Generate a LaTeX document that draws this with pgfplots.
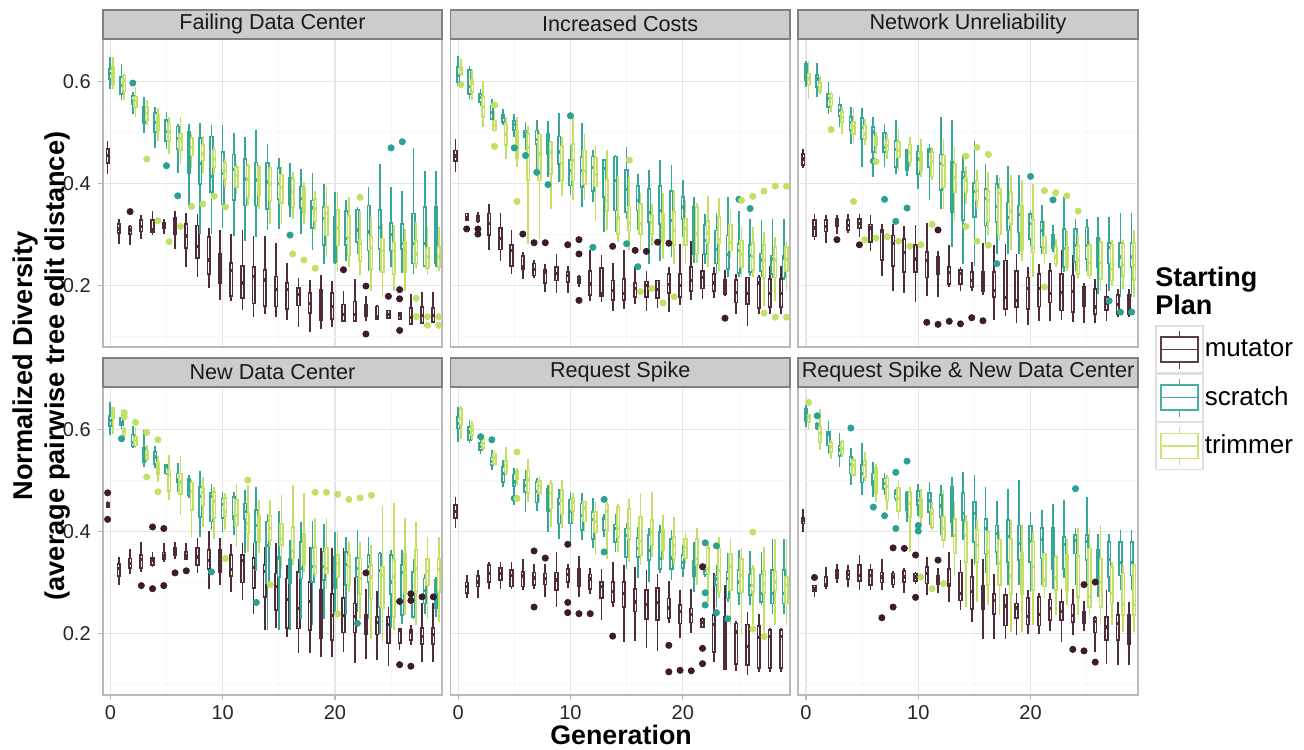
\documentclass[border=0pt]{standalone}
\usepackage{fontspec}
\setmainfont{Liberation Sans}
\usepackage{pgfplots}
\usepackage{pgfplotstable}
\pgfplotsset{compat=1.18}
\usepgfplotslibrary{statistics}

\definecolor{mutcol}{RGB}{61,27,40}
\definecolor{scrcol}{RGB}{42,161,146}
\definecolor{trimcol}{RGB}{194,224,102}
\definecolor{stripfill}{gray}{0.80}
\definecolor{stripline}{gray}{0.50}
\definecolor{gridmaj}{gray}{0.90}
\definecolor{gridmin}{gray}{0.97}

% one table per facet and starting plan: generation, lower whisker, Q1, median, Q3, upper whisker
\pgfplotstableread{
g lw qa md qb uw
0 0.419 0.440 0.455 0.468 0.484
1 0.282 0.303 0.311 0.321 0.331
2 0.279 0.301 0.309 0.316 0.318
3 0.292 0.306 0.316 0.328 0.339
4 0.300 0.305 0.309 0.328 0.346
5 0.301 0.313 0.318 0.323 0.331
6 0.271 0.300 0.314 0.333 0.347
7 0.237 0.273 0.297 0.321 0.342
8 0.216 0.254 0.277 0.318 0.341
9 0.195 0.223 0.250 0.295 0.312
10 0.171 0.205 0.239 0.263 0.308
11 0.169 0.180 0.229 0.244 0.301
12 0.152 0.175 0.205 0.239 0.309
13 0.139 0.165 0.218 0.236 0.297
14 0.145 0.160 0.211 0.231 0.298
15 0.138 0.159 0.192 0.218 0.283
16 0.133 0.154 0.192 0.205 0.244
17 0.118 0.161 0.182 0.195 0.214
18 0.109 0.146 0.165 0.186 0.211
19 0.115 0.133 0.175 0.192 0.221
20 0.118 0.135 0.159 0.185 0.208
21 0.128 0.131 0.144 0.163 0.189
22 0.128 0.131 0.143 0.169 0.213
23 0.131 0.140 0.151 0.162 0.179
24 0.133 0.135 0.139 0.159 0.161
25 0.135 0.137 0.144 0.151 0.152
26 0.133 0.135 0.141 0.146 0.148
27 0.124 0.125 0.138 0.156 0.184
28 0.125 0.127 0.141 0.158 0.187
29 0.126 0.128 0.141 0.156 0.187
}\pAm
\pgfplotstableread{
g lw qa md qb uw
0 0.586 0.605 0.615 0.625 0.648
1 0.564 0.576 0.592 0.609 0.635
2 0.537 0.556 0.562 0.571 0.579
3 0.499 0.518 0.540 0.550 0.569
4 0.469 0.501 0.520 0.538 0.550
5 0.467 0.484 0.502 0.524 0.540
6 0.420 0.468 0.488 0.512 0.516
7 0.354 0.420 0.470 0.501 0.516
8 0.301 0.399 0.440 0.489 0.518
9 0.301 0.383 0.414 0.492 0.514
10 0.313 0.359 0.419 0.462 0.514
11 0.297 0.368 0.427 0.457 0.499
12 0.288 0.357 0.409 0.448 0.492
13 0.296 0.357 0.407 0.441 0.505
14 0.308 0.350 0.403 0.440 0.477
15 0.310 0.370 0.400 0.430 0.450
16 0.334 0.357 0.394 0.412 0.441
17 0.301 0.352 0.371 0.394 0.429
18 0.269 0.313 0.352 0.367 0.421
19 0.243 0.279 0.331 0.354 0.399
20 0.243 0.246 0.321 0.334 0.383
21 0.249 0.279 0.293 0.346 0.367
22 0.262 0.285 0.309 0.349 0.354
23 0.229 0.269 0.305 0.357 0.393
24 0.229 0.272 0.314 0.348 0.439
25 0.236 0.269 0.300 0.323 0.394
26 0.224 0.272 0.282 0.321 0.385
27 0.223 0.243 0.283 0.341 0.470
28 0.236 0.239 0.283 0.354 0.424
29 0.236 0.243 0.283 0.354 0.424
}\pAs
\pgfplotstableread{
g lw qa md qb uw
0 0.585 0.595 0.605 0.629 0.648
1 0.563 0.582 0.602 0.612 0.614
2 0.530 0.550 0.563 0.569 0.589
3 0.514 0.525 0.537 0.550 0.563
4 0.484 0.503 0.520 0.535 0.548
5 0.458 0.484 0.501 0.518 0.531
6 0.439 0.466 0.488 0.497 0.531
7 0.430 0.455 0.471 0.489 0.497
8 0.420 0.445 0.458 0.475 0.494
9 0.419 0.433 0.448 0.465 0.471
10 0.393 0.409 0.426 0.440 0.448
11 0.380 0.393 0.416 0.433 0.439
12 0.357 0.373 0.409 0.435 0.439
13 0.350 0.377 0.409 0.432 0.437
14 0.321 0.367 0.399 0.430 0.432
15 0.321 0.362 0.393 0.418 0.432
16 0.330 0.354 0.383 0.409 0.422
17 0.321 0.342 0.360 0.392 0.404
18 0.308 0.326 0.350 0.370 0.386
19 0.256 0.298 0.341 0.354 0.396
20 0.229 0.279 0.313 0.348 0.383
21 0.236 0.259 0.295 0.337 0.373
22 0.220 0.248 0.282 0.290 0.347
23 0.190 0.233 0.275 0.295 0.334
24 0.177 0.226 0.269 0.292 0.321
25 0.190 0.223 0.269 0.283 0.318
26 0.190 0.226 0.256 0.285 0.311
27 0.235 0.243 0.262 0.287 0.324
28 0.220 0.235 0.256 0.274 0.314
29 0.229 0.236 0.256 0.275 0.314
}\pAt
\pgfplotstableread{
g lw qa md qb uw
0 0.422 0.444 0.454 0.465 0.488
1 0.326 0.329 0.334 0.341 0.343
2 0.322 0.326 0.331 0.337 0.344
3 0.270 0.299 0.322 0.341 0.360
4 0.248 0.271 0.293 0.313 0.342
5 0.223 0.239 0.269 0.280 0.308
6 0.213 0.233 0.237 0.258 0.265
7 0.215 0.220 0.231 0.243 0.250
8 0.187 0.205 0.226 0.231 0.242
9 0.185 0.210 0.224 0.237 0.261
10 0.185 0.207 0.220 0.226 0.239
11 0.197 0.205 0.213 0.218 0.220
12 0.170 0.182 0.203 0.228 0.269
13 0.167 0.180 0.185 0.234 0.259
14 0.151 0.172 0.190 0.210 0.244
15 0.154 0.172 0.184 0.213 0.269
16 0.164 0.177 0.194 0.205 0.239
17 0.151 0.178 0.200 0.208 0.229
18 0.156 0.176 0.192 0.210 0.211
19 0.148 0.185 0.202 0.222 0.236
20 0.161 0.178 0.200 0.222 0.282
21 0.171 0.190 0.210 0.236 0.287
22 0.174 0.194 0.216 0.228 0.261
23 0.176 0.190 0.205 0.222 0.237
24 0.180 0.184 0.187 0.211 0.231
25 0.144 0.167 0.187 0.211 0.222
26 0.120 0.164 0.184 0.216 0.216
27 0.144 0.156 0.205 0.216 0.220
28 0.144 0.158 0.184 0.213 0.239
29 0.144 0.158 0.184 0.213 0.239
}\pBm
\pgfplotstableread{
g lw qa md qb uw
0 0.592 0.599 0.612 0.628 0.651
1 0.566 0.576 0.590 0.622 0.631
2 0.553 0.560 0.569 0.576 0.586
3 0.525 0.527 0.540 0.553 0.566
4 0.514 0.520 0.530 0.535 0.546
5 0.492 0.505 0.516 0.522 0.537
6 0.465 0.491 0.497 0.504 0.520
7 0.426 0.478 0.486 0.504 0.524
8 0.412 0.458 0.488 0.497 0.522
9 0.403 0.439 0.462 0.492 0.538
10 0.377 0.396 0.426 0.446 0.475
11 0.354 0.393 0.426 0.452 0.518
12 0.363 0.385 0.432 0.453 0.466
13 0.305 0.373 0.429 0.446 0.448
14 0.305 0.347 0.406 0.453 0.455
15 0.331 0.344 0.388 0.427 0.471
16 0.308 0.347 0.367 0.395 0.418
17 0.243 0.324 0.344 0.390 0.426
18 0.249 0.321 0.347 0.395 0.446
19 0.256 0.282 0.327 0.386 0.437
20 0.295 0.331 0.354 0.373 0.407
21 0.245 0.262 0.314 0.354 0.373
22 0.242 0.262 0.288 0.319 0.341
23 0.223 0.243 0.270 0.308 0.342
24 0.216 0.233 0.261 0.298 0.373
25 0.216 0.224 0.269 0.282 0.347
26 0.219 0.226 0.259 0.280 0.331
27 0.216 0.229 0.250 0.263 0.329
28 0.215 0.223 0.252 0.259 0.331
29 0.210 0.216 0.254 0.259 0.331
}\pBs
\pgfplotstableread{
g lw qa md qb uw
0 0.610 0.615 0.624 0.629 0.645
1 0.563 0.579 0.597 0.603 0.622
2 0.511 0.530 0.551 0.569 0.602
3 0.501 0.504 0.514 0.522 0.542
4 0.448 0.475 0.497 0.516 0.530
5 0.432 0.450 0.484 0.504 0.531
6 0.282 0.407 0.470 0.497 0.512
7 0.291 0.406 0.458 0.496 0.504
8 0.350 0.419 0.462 0.481 0.484
9 0.375 0.406 0.439 0.473 0.491
10 0.367 0.406 0.445 0.477 0.530
11 0.367 0.399 0.426 0.465 0.497
12 0.327 0.394 0.418 0.450 0.475
13 0.308 0.346 0.367 0.407 0.465
14 0.285 0.301 0.331 0.334 0.414
15 0.269 0.308 0.324 0.355 0.412
16 0.269 0.301 0.321 0.360 0.381
17 0.277 0.301 0.324 0.337 0.360
18 0.252 0.288 0.311 0.341 0.381
19 0.243 0.279 0.308 0.344 0.388
20 0.243 0.279 0.311 0.331 0.367
21 0.245 0.262 0.301 0.354 0.362
22 0.236 0.283 0.303 0.327 0.375
23 0.229 0.283 0.291 0.334 0.371
24 0.255 0.269 0.285 0.320 0.350
25 0.216 0.236 0.262 0.287 0.314
26 0.216 0.231 0.256 0.283 0.314
27 0.159 0.216 0.249 0.280 0.305
28 0.170 0.216 0.250 0.275 0.295
29 0.190 0.229 0.252 0.275 0.288
}\pBt
\pgfplotstableread{
g lw qa md qb uw
0 0.431 0.437 0.448 0.458 0.468
1 0.290 0.296 0.313 0.329 0.341
2 0.283 0.306 0.316 0.328 0.339
3 0.301 0.316 0.324 0.331 0.339
4 0.303 0.309 0.318 0.328 0.341
5 0.295 0.313 0.321 0.331 0.341
6 0.267 0.286 0.313 0.320 0.339
7 0.218 0.250 0.307 0.309 0.321
8 0.189 0.239 0.283 0.298 0.320
9 0.185 0.226 0.265 0.291 0.316
10 0.167 0.226 0.252 0.280 0.318
11 0.180 0.216 0.249 0.266 0.322
12 0.177 0.223 0.239 0.257 0.267
13 0.198 0.203 0.226 0.237 0.280
14 0.190 0.203 0.223 0.231 0.237
15 0.190 0.197 0.210 0.226 0.246
16 0.182 0.190 0.210 0.226 0.283
17 0.133 0.177 0.190 0.226 0.279
18 0.141 0.154 0.177 0.249 0.282
19 0.126 0.158 0.171 0.229 0.262
20 0.122 0.154 0.194 0.216 0.236
21 0.131 0.159 0.194 0.223 0.243
22 0.130 0.167 0.185 0.229 0.244
23 0.133 0.151 0.187 0.223 0.269
24 0.128 0.148 0.189 0.220 0.259
25 0.126 0.159 0.190 0.198 0.206
26 0.126 0.144 0.158 0.193 0.213
27 0.131 0.152 0.165 0.177 0.203
28 0.138 0.144 0.163 0.182 0.193
29 0.138 0.144 0.163 0.182 0.193
}\pCm
\pgfplotstableread{
g lw qa md qb uw
0 0.589 0.603 0.618 0.635 0.641
1 0.569 0.589 0.605 0.613 0.636
2 0.537 0.550 0.566 0.576 0.599
3 0.511 0.532 0.543 0.554 0.569
4 0.478 0.505 0.520 0.530 0.550
5 0.432 0.488 0.510 0.529 0.548
6 0.412 0.462 0.501 0.511 0.530
7 0.432 0.462 0.470 0.499 0.516
8 0.419 0.433 0.466 0.484 0.525
9 0.415 0.427 0.448 0.466 0.468
10 0.390 0.419 0.448 0.463 0.475
11 0.367 0.432 0.463 0.468 0.478
12 0.350 0.388 0.439 0.457 0.531
13 0.275 0.344 0.431 0.442 0.524
14 0.243 0.329 0.412 0.422 0.455
15 0.239 0.334 0.384 0.401 0.484
16 0.282 0.318 0.370 0.390 0.439
17 0.262 0.324 0.355 0.399 0.416
18 0.262 0.308 0.334 0.363 0.435
19 0.262 0.304 0.339 0.357 0.416
20 0.278 0.291 0.321 0.340 0.347
21 0.262 0.275 0.308 0.324 0.357
22 0.265 0.274 0.296 0.300 0.318
23 0.226 0.236 0.272 0.311 0.373
24 0.229 0.246 0.279 0.311 0.331
25 0.229 0.252 0.279 0.314 0.331
26 0.184 0.236 0.272 0.293 0.334
27 0.190 0.243 0.275 0.283 0.334
28 0.177 0.236 0.256 0.283 0.342
29 0.177 0.236 0.256 0.283 0.342
}\pCs
\pgfplotstableread{
g lw qa md qb uw
0 0.566 0.594 0.605 0.616 0.640
1 0.575 0.581 0.589 0.597 0.610
2 0.540 0.553 0.566 0.576 0.579
3 0.497 0.520 0.530 0.540 0.550
4 0.479 0.497 0.511 0.520 0.548
5 0.475 0.488 0.497 0.514 0.527
6 0.458 0.475 0.483 0.492 0.501
7 0.448 0.465 0.475 0.486 0.497
8 0.425 0.452 0.465 0.481 0.507
9 0.432 0.443 0.461 0.475 0.491
10 0.412 0.427 0.445 0.462 0.488
11 0.406 0.414 0.444 0.462 0.471
12 0.350 0.393 0.435 0.455 0.488
13 0.327 0.383 0.411 0.439 0.471
14 0.360 0.383 0.406 0.412 0.435
15 0.350 0.367 0.386 0.406 0.427
16 0.300 0.327 0.367 0.386 0.422
17 0.290 0.300 0.380 0.390 0.412
18 0.269 0.321 0.346 0.383 0.416
19 0.249 0.269 0.341 0.357 0.406
20 0.216 0.265 0.275 0.329 0.399
21 0.242 0.263 0.275 0.296 0.329
22 0.236 0.243 0.256 0.275 0.291
23 0.229 0.236 0.256 0.276 0.308
24 0.215 0.223 0.250 0.278 0.301
25 0.213 0.220 0.246 0.280 0.288
26 0.190 0.213 0.246 0.285 0.293
27 0.200 0.210 0.231 0.280 0.289
28 0.194 0.219 0.239 0.282 0.289
29 0.177 0.211 0.239 0.283 0.308
}\pCt
\pgfplotstableread{
g lw qa md qb uw
0 0.446 0.448 0.453 0.457 0.459
1 0.295 0.313 0.328 0.337 0.350
2 0.316 0.328 0.337 0.347 0.365
3 0.320 0.329 0.346 0.354 0.380
4 0.330 0.335 0.344 0.348 0.360
5 0.341 0.346 0.352 0.359 0.377
6 0.347 0.354 0.363 0.369 0.380
7 0.344 0.346 0.352 0.360 0.377
8 0.318 0.335 0.350 0.368 0.388
9 0.287 0.326 0.344 0.364 0.401
10 0.295 0.321 0.346 0.365 0.388
11 0.282 0.313 0.326 0.354 0.375
12 0.265 0.300 0.344 0.354 0.377
13 0.239 0.290 0.329 0.348 0.377
14 0.207 0.272 0.321 0.335 0.370
15 0.210 0.246 0.292 0.318 0.377
16 0.194 0.211 0.267 0.308 0.334
17 0.161 0.210 0.249 0.321 0.347
18 0.161 0.207 0.263 0.301 0.370
19 0.154 0.192 0.265 0.285 0.367
20 0.154 0.187 0.236 0.277 0.367
21 0.164 0.202 0.236 0.270 0.367
22 0.143 0.202 0.233 0.259 0.311
23 0.150 0.198 0.218 0.236 0.287
24 0.148 0.198 0.222 0.233 0.283
25 0.137 0.182 0.218 0.233 0.252
26 0.167 0.182 0.207 0.210 0.211
27 0.178 0.187 0.203 0.208 0.216
28 0.144 0.180 0.194 0.211 0.259
29 0.144 0.180 0.198 0.211 0.259
}\pDm
\pgfplotstableread{
g lw qa md qb uw
0 0.590 0.607 0.618 0.627 0.654
1 0.602 0.609 0.614 0.622 0.638
2 0.563 0.568 0.575 0.590 0.607
3 0.527 0.537 0.553 0.564 0.599
4 0.524 0.533 0.546 0.556 0.568
5 0.511 0.514 0.527 0.530 0.533
6 0.478 0.496 0.501 0.514 0.535
7 0.466 0.471 0.495 0.503 0.511
8 0.390 0.429 0.468 0.488 0.518
9 0.403 0.420 0.468 0.475 0.494
10 0.399 0.427 0.453 0.465 0.478
11 0.393 0.425 0.429 0.468 0.478
12 0.357 0.425 0.439 0.455 0.481
13 0.322 0.380 0.412 0.442 0.488
14 0.207 0.298 0.373 0.420 0.435
15 0.207 0.311 0.348 0.350 0.440
16 0.207 0.298 0.327 0.347 0.383
17 0.229 0.308 0.327 0.380 0.419
18 0.216 0.301 0.331 0.368 0.420
19 0.229 0.305 0.331 0.361 0.414
20 0.236 0.290 0.331 0.350 0.399
21 0.236 0.295 0.335 0.360 0.390
22 0.242 0.311 0.327 0.348 0.404
23 0.229 0.301 0.331 0.354 0.390
24 0.200 0.252 0.324 0.357 0.360
25 0.211 0.277 0.301 0.354 0.363
26 0.218 0.236 0.320 0.334 0.363
27 0.229 0.233 0.278 0.321 0.347
28 0.239 0.259 0.285 0.308 0.316
29 0.233 0.249 0.278 0.305 0.311
}\pDs
\pgfplotstableread{
g lw qa md qb uw
0 0.592 0.622 0.628 0.643 0.645
1 0.586 0.589 0.597 0.602 0.605
2 0.563 0.569 0.579 0.586 0.605
3 0.537 0.542 0.550 0.558 0.569
4 0.497 0.512 0.527 0.535 0.548
5 0.461 0.479 0.512 0.520 0.550
6 0.432 0.473 0.497 0.514 0.548
7 0.390 0.442 0.478 0.496 0.501
8 0.409 0.452 0.477 0.486 0.507
9 0.386 0.426 0.460 0.478 0.488
10 0.403 0.431 0.440 0.466 0.475
11 0.370 0.412 0.432 0.462 0.494
12 0.360 0.396 0.416 0.435 0.492
13 0.357 0.380 0.406 0.431 0.461
14 0.370 0.383 0.406 0.431 0.461
15 0.327 0.373 0.386 0.416 0.471
16 0.334 0.347 0.363 0.409 0.491
17 0.320 0.337 0.380 0.396 0.475
18 0.311 0.318 0.331 0.370 0.426
19 0.288 0.318 0.327 0.368 0.426
20 0.229 0.311 0.337 0.354 0.401
21 0.282 0.295 0.331 0.354 0.380
22 0.229 0.277 0.308 0.347 0.380
23 0.190 0.269 0.311 0.335 0.373
24 0.184 0.249 0.314 0.331 0.450
25 0.207 0.233 0.311 0.344 0.456
26 0.236 0.279 0.311 0.357 0.426
27 0.216 0.282 0.327 0.364 0.419
28 0.229 0.295 0.324 0.346 0.390
29 0.223 0.282 0.326 0.346 0.390
}\pDt
\pgfplotstableread{
g lw qa md qb uw
0 0.407 0.427 0.439 0.452 0.468
1 0.270 0.280 0.292 0.300 0.314
2 0.269 0.292 0.301 0.313 0.324
3 0.287 0.301 0.318 0.334 0.341
4 0.287 0.305 0.318 0.329 0.341
5 0.287 0.292 0.314 0.324 0.341
6 0.285 0.292 0.313 0.321 0.347
7 0.288 0.295 0.309 0.320 0.337
8 0.272 0.296 0.308 0.318 0.337
9 0.252 0.285 0.305 0.320 0.360
10 0.290 0.301 0.316 0.326 0.337
11 0.272 0.292 0.313 0.327 0.352
12 0.277 0.287 0.307 0.316 0.329
13 0.226 0.270 0.292 0.301 0.326
14 0.252 0.262 0.282 0.301 0.341
15 0.184 0.252 0.278 0.301 0.335
16 0.185 0.243 0.262 0.287 0.331
17 0.171 0.229 0.257 0.285 0.324
18 0.165 0.226 0.261 0.290 0.316
19 0.220 0.231 0.250 0.269 0.303
20 0.192 0.220 0.244 0.256 0.285
21 0.202 0.222 0.237 0.249 0.287
22 0.210 0.213 0.222 0.229 0.233
23 0.144 0.164 0.218 0.236 0.318
24 0.128 0.131 0.222 0.233 0.295
25 0.126 0.141 0.203 0.220 0.224
26 0.118 0.138 0.174 0.218 0.242
27 0.124 0.133 0.192 0.215 0.239
28 0.125 0.133 0.195 0.207 0.210
29 0.125 0.133 0.195 0.207 0.210
}\pEm
\pgfplotstableread{
g lw qa md qb uw
0 0.576 0.602 0.612 0.624 0.645
1 0.573 0.579 0.595 0.605 0.618
2 0.553 0.560 0.566 0.573 0.582
3 0.520 0.530 0.538 0.545 0.560
4 0.488 0.497 0.514 0.527 0.540
5 0.452 0.490 0.497 0.512 0.524
6 0.439 0.477 0.491 0.501 0.520
7 0.440 0.457 0.478 0.497 0.505
8 0.399 0.440 0.471 0.483 0.491
9 0.386 0.416 0.455 0.465 0.484
10 0.375 0.416 0.439 0.463 0.478
11 0.383 0.403 0.432 0.455 0.475
12 0.367 0.386 0.424 0.439 0.465
13 0.390 0.403 0.426 0.427 0.435
14 0.360 0.380 0.406 0.414 0.435
15 0.327 0.350 0.393 0.406 0.416
16 0.308 0.350 0.367 0.388 0.409
17 0.301 0.344 0.363 0.393 0.406
18 0.318 0.327 0.347 0.399 0.412
19 0.305 0.327 0.348 0.386 0.403
20 0.310 0.329 0.339 0.354 0.373
21 0.282 0.313 0.324 0.342 0.380
22 0.310 0.316 0.324 0.334 0.334
23 0.252 0.295 0.307 0.314 0.334
24 0.262 0.269 0.308 0.321 0.357
25 0.256 0.279 0.301 0.324 0.363
26 0.256 0.275 0.295 0.316 0.361
27 0.256 0.262 0.278 0.316 0.360
28 0.239 0.259 0.278 0.324 0.386
29 0.239 0.259 0.278 0.324 0.386
}\pEs
\pgfplotstableread{
g lw qa md qb uw
0 0.582 0.609 0.622 0.640 0.646
1 0.579 0.589 0.599 0.607 0.616
2 0.560 0.564 0.573 0.582 0.589
3 0.530 0.533 0.545 0.553 0.560
4 0.510 0.517 0.530 0.538 0.566
5 0.491 0.503 0.511 0.520 0.525
6 0.458 0.475 0.501 0.520 0.542
7 0.458 0.475 0.491 0.499 0.509
8 0.409 0.445 0.475 0.494 0.501
9 0.406 0.435 0.461 0.481 0.501
10 0.419 0.440 0.458 0.466 0.475
11 0.399 0.420 0.446 0.458 0.460
12 0.354 0.399 0.419 0.439 0.458
13 0.347 0.403 0.439 0.453 0.458
14 0.360 0.390 0.406 0.448 0.455
15 0.341 0.386 0.406 0.444 0.463
16 0.334 0.354 0.380 0.429 0.476
17 0.350 0.373 0.399 0.422 0.478
18 0.344 0.363 0.381 0.403 0.432
19 0.334 0.347 0.373 0.390 0.429
20 0.337 0.348 0.368 0.386 0.399
21 0.295 0.334 0.347 0.386 0.406
22 0.262 0.318 0.327 0.368 0.380
23 0.270 0.282 0.324 0.367 0.390
24 0.216 0.285 0.331 0.357 0.386
25 0.197 0.282 0.314 0.346 0.367
26 0.216 0.282 0.295 0.327 0.334
27 0.200 0.279 0.298 0.322 0.370
28 0.216 0.285 0.301 0.321 0.386
29 0.216 0.259 0.295 0.311 0.386
}\pEt
\pgfplotstableread{
g lw qa md qb uw
0 0.399 0.416 0.422 0.427 0.444
1 0.272 0.283 0.288 0.294 0.296
2 0.288 0.292 0.296 0.311 0.331
3 0.300 0.308 0.314 0.324 0.337
4 0.292 0.307 0.316 0.322 0.335
5 0.285 0.303 0.314 0.335 0.355
6 0.285 0.295 0.314 0.324 0.337
7 0.285 0.300 0.311 0.320 0.346
8 0.290 0.296 0.311 0.318 0.322
9 0.279 0.301 0.311 0.322 0.329
10 0.298 0.303 0.311 0.318 0.321
11 0.275 0.298 0.318 0.331 0.350
12 0.279 0.296 0.308 0.313 0.329
13 0.261 0.292 0.296 0.326 0.359
14 0.246 0.265 0.278 0.320 0.344
15 0.222 0.248 0.282 0.311 0.346
16 0.189 0.248 0.282 0.294 0.346
17 0.189 0.239 0.265 0.278 0.316
18 0.189 0.216 0.254 0.275 0.290
19 0.198 0.231 0.250 0.259 0.279
20 0.200 0.218 0.233 0.270 0.285
21 0.200 0.216 0.237 0.272 0.279
22 0.205 0.226 0.249 0.267 0.280
23 0.184 0.226 0.243 0.262 0.288
24 0.197 0.223 0.236 0.257 0.287
25 0.205 0.220 0.229 0.243 0.263
26 0.164 0.202 0.223 0.231 0.235
27 0.141 0.187 0.213 0.233 0.285
28 0.138 0.187 0.220 0.236 0.262
29 0.138 0.180 0.220 0.236 0.262
}\pFm
\pgfplotstableread{
g lw qa md qb uw
0 0.605 0.616 0.628 0.640 0.648
1 0.599 0.602 0.607 0.612 0.615
2 0.553 0.569 0.590 0.595 0.616
3 0.527 0.548 0.560 0.568 0.594
4 0.491 0.514 0.531 0.546 0.563
5 0.471 0.496 0.514 0.530 0.573
6 0.468 0.491 0.497 0.514 0.537
7 0.471 0.483 0.494 0.504 0.514
8 0.460 0.465 0.475 0.479 0.484
9 0.419 0.442 0.455 0.475 0.479
10 0.430 0.452 0.461 0.479 0.494
11 0.412 0.439 0.460 0.475 0.497
12 0.393 0.429 0.450 0.471 0.491
13 0.389 0.419 0.448 0.488 0.507
14 0.383 0.422 0.435 0.476 0.516
15 0.334 0.380 0.435 0.458 0.511
16 0.318 0.357 0.406 0.425 0.488
17 0.334 0.360 0.396 0.412 0.460
18 0.295 0.341 0.390 0.422 0.484
19 0.295 0.344 0.377 0.412 0.501
20 0.282 0.341 0.381 0.411 0.439
21 0.295 0.347 0.385 0.407 0.442
22 0.288 0.327 0.385 0.407 0.455
23 0.308 0.327 0.375 0.390 0.462
24 0.295 0.357 0.383 0.393 0.406
25 0.301 0.344 0.381 0.393 0.468
26 0.272 0.308 0.360 0.365 0.396
27 0.282 0.311 0.346 0.380 0.396
28 0.285 0.314 0.339 0.380 0.403
29 0.285 0.314 0.339 0.380 0.403
}\pFs
\pgfplotstableread{
g lw qa md qb uw
0 0.599 0.615 0.623 0.629 0.631
1 0.560 0.576 0.592 0.605 0.640
2 0.543 0.556 0.566 0.573 0.579
3 0.546 0.553 0.563 0.575 0.579
4 0.507 0.511 0.530 0.540 0.546
5 0.500 0.507 0.530 0.538 0.556
6 0.458 0.475 0.504 0.524 0.533
7 0.442 0.461 0.488 0.505 0.510
8 0.425 0.440 0.465 0.486 0.501
9 0.360 0.429 0.455 0.478 0.488
10 0.412 0.429 0.439 0.465 0.484
11 0.403 0.409 0.435 0.442 0.458
12 0.367 0.383 0.406 0.429 0.481
13 0.314 0.357 0.393 0.425 0.458
14 0.252 0.341 0.393 0.419 0.432
15 0.262 0.341 0.373 0.403 0.425
16 0.256 0.295 0.360 0.399 0.400
17 0.236 0.295 0.337 0.383 0.399
18 0.203 0.277 0.313 0.385 0.422
19 0.203 0.277 0.314 0.359 0.412
20 0.216 0.285 0.331 0.379 0.399
21 0.269 0.292 0.305 0.357 0.360
22 0.237 0.285 0.309 0.350 0.354
23 0.256 0.285 0.309 0.354 0.386
24 0.236 0.269 0.272 0.352 0.406
25 0.236 0.252 0.272 0.367 0.406
26 0.216 0.252 0.301 0.346 0.412
27 0.216 0.259 0.278 0.331 0.341
28 0.203 0.237 0.257 0.318 0.334
29 0.203 0.237 0.257 0.334 0.336
}\pFt

% draws one box per table row at generation + offset
\newcommand\drawboxes[3]{%
  \pgfplotstablegetrowsof{#1}%
  \pgfmathtruncatemacro\lastrow{\pgfplotsretval-1}%
  \foreach \r in {0,...,\lastrow}{%
    \pgfplotstablegetelem{\r}{g}\of{#1}\pgfmathsetmacro\bpos{\pgfplotsretval+(#2)}%
    \pgfplotstablegetelem{\r}{lw}\of{#1}\let\blw\pgfplotsretval
    \pgfplotstablegetelem{\r}{qa}\of{#1}\let\bqa\pgfplotsretval
    \pgfplotstablegetelem{\r}{md}\of{#1}\let\bmd\pgfplotsretval
    \pgfplotstablegetelem{\r}{qb}\of{#1}\let\bqb\pgfplotsretval
    \pgfplotstablegetelem{\r}{uw}\of{#1}\let\buw\pgfplotsretval
    \edef\doit{\noexpand\addplot[bx=#3, boxplot prepared={draw position=\bpos,
      lower whisker=\blw, lower quartile=\bqa, median=\bmd,
      upper quartile=\bqb, upper whisker=\buw}] coordinates {};}%
    \doit
  }%
}
\newcommand\allboxes[3]{%
  \drawboxes{#1}{-0.24}{mutcol!92!white}%
  \drawboxes{#2}{0}{scrcol!95!white}%
  \drawboxes{#3}{0.24}{trimcol}%
}

\pgfplotsset{
  bx/.style={solid, draw=#1, fill=white, line width=0.85pt,
    boxplot/draw direction=y,
    boxplot/box extend=0.23, boxplot/whisker extend=0,
    boxplot/every median/.style={line width=1.6pt}},
  outl/.style={only marks, mark=*, mark size=1.55pt, color=#1, mark options={draw=none, fill=#1}},
  every axis title/.style={at={(0.5,1)}, anchor=south, fill=stripfill, draw=stripline, line width=0.9pt,
      minimum width=169.75pt, minimum height=14.5pt, inner sep=0pt, outer sep=0pt,
      font=\fontsize{10.8}{12}\selectfont, text=black!90},
  facet/.style={scale only axis, width=169.75pt, height=154.3pt,
    xmin=-0.68, xmax=29.55, ymin=0.079, ymax=0.684,
    xtick={0,10,20}, ytick={0.2,0.4,0.6},
    minor xtick={5,15,25}, minor ytick={0.1,0.3,0.5},
    grid=both, major grid style={line width=0.6pt, draw=gridmaj},
    minor grid style={line width=0.35pt, draw=gridmin},
    axis line style={draw=gray!55, line width=0.9pt},
    tick align=outside, tick pos=left, major tick length=2.5pt, minor tick length=0pt,
    tick style={draw=gray!55, line width=0.6pt},
    ticklabel style={font=\fontsize{10}{12}\selectfont, text=black!85},
    xticklabel style={yshift=1pt},
    /pgf/number format/assume math mode=true,
    yticklabel style={/pgf/number format/fixed, /pgf/number format/precision=1, /pgf/number format/fixed zerofill},
    clip=true},
  noxl/.style={xticklabels={}, xtick style={draw=none}},
  noyl/.style={yticklabels={}, ytick style={draw=none}},
  keyimg/.style={legend image code/.code={
    \draw[gray!25, fill=white, line width=0.6pt] (0pt,-11.75pt) rectangle (23.5pt,11.75pt);
    \draw[#1, line width=0.75pt] (11.75pt,-9.5pt) -- (11.75pt,9.5pt);
    \draw[#1, fill=white, line width=0.75pt] (2.5pt,-6.25pt) rectangle (21pt,6.25pt);
    \draw[#1, line width=0.75pt] (2.5pt,0pt) -- (21pt,0pt);}},
}

\begin{document}
\begin{tikzpicture}
\path[use as bounding box] (0,0) rectangle (652pt,374.5pt);

% ---- top row ----
\begin{axis}[facet, noxl, at={(51.35pt,355.15pt)}, anchor=north west, title={Failing Data Center}]
\allboxes{\pAm}{\pAs}{\pAt}
\addplot[outl=mutcol] table[x expr=\thisrow{g}-0.24, y=v]{
g v
2 0.345
21 0.231
23 0.199
23 0.105
25 0.179
26 0.192
26 0.174
26 0.112
};
\addplot[outl=scrcol] table[x=g, y=v]{
g v
2 0.597
5 0.435
6 0.376
16 0.299
25 0.470
26 0.482
};
\addplot[outl=trimcol] table[x expr=\thisrow{g}+0.24, y=v]{
g v
3 0.448
4 0.327
5 0.286
6 0.316
7 0.355
8 0.360
9 0.375
10 0.354
16 0.262
17 0.250
18 0.234
22 0.373
27 0.175
27 0.139
28 0.139
28 0.122
29 0.139
29 0.122
};
\end{axis}

\begin{axis}[facet, noxl, noyl, at={(225.25pt,355.15pt)}, anchor=north west, title={Increased Costs}]
\allboxes{\pBm}{\pBs}{\pBt}
\addplot[outl=mutcol] table[x expr=\thisrow{g}-0.24, y=v]{
g v
1 0.311
2 0.311
2 0.301
6 0.301
7 0.284
8 0.284
10 0.280
11 0.290
11 0.262
11 0.171
14 0.277
16 0.269
17 0.267
18 0.285
19 0.283
24 0.136
};
\addplot[outl=scrcol] table[x=g, y=v]{
g v
5 0.470
6 0.455
7 0.422
8 0.398
10 0.533
12 0.275
15 0.282
16 0.237
25 0.369
26 0.351
};
\addplot[outl=trimcol] table[x expr=\thisrow{g}+0.24, y=v]{
g v
0 0.594
3 0.554
3 0.473
5 0.365
15 0.446
16 0.188
17 0.194
18 0.166
19 0.178
25 0.367
26 0.375
27 0.385
28 0.395
29 0.395
27 0.146
28 0.138
29 0.138
};
\end{axis}

\begin{axis}[facet, noxl, noyl, at={(399.15pt,355.15pt)}, anchor=north west, title={Network Unreliability},
  legend style={at={(1.0507,0.0722)}, anchor=north west, draw=none, fill=none, inner sep=0pt,
    row sep=0pt, font=\fontsize{13}{15}\selectfont,
    nodes={inner sep=0.6pt, anchor=west}},
  legend cell align=left]
\addlegendimage{keyimg=mutcol!85!white}
\addlegendentry{mutator}
\addlegendimage{keyimg=scrcol!85!white}
\addlegendentry{scratch}
\addlegendimage{keyimg=trimcol!85!white}
\addlegendentry{trimmer}
\allboxes{\pCm}{\pCs}{\pCt}
\addplot[outl=mutcol] table[x expr=\thisrow{g}-0.24, y=v]{
g v
3 0.290
5 0.280
12 0.309
11 0.128
12 0.124
13 0.130
14 0.125
15 0.137
16 0.131
};
\addplot[outl=scrcol] table[x=g, y=v]{
g v
6 0.444
7 0.369
8 0.326
9 0.352
17 0.243
20 0.414
22 0.368
27 0.170
28 0.148
29 0.148
};
\addplot[outl=trimcol] table[x expr=\thisrow{g}+0.24, y=v]{
g v
2 0.506
4 0.365
5 0.290
6 0.443
6 0.293
7 0.296
8 0.287
9 0.277
10 0.280
11 0.320
14 0.454
14 0.316
15 0.471
15 0.287
16 0.457
16 0.279
21 0.386
21 0.197
22 0.382
23 0.376
24 0.346
};
\end{axis}

% ---- bottom row ----
\begin{axis}[facet, at={(51.35pt,181.15pt)}, anchor=north west, title={New Data Center}]
\allboxes{\pDm}{\pDs}{\pDt}
\addplot[outl=mutcol] table[x expr=\thisrow{g}-0.24, y=v]{
g v
0 0.476
0 0.424
3 0.294
4 0.409
4 0.288
5 0.406
5 0.294
6 0.319
7 0.323
23 0.319
26 0.263
26 0.139
27 0.278
27 0.265
27 0.136
28 0.272
29 0.272
};
\addplot[outl=scrcol] table[x=g, y=v]{
g v
1 0.582
9 0.321
13 0.261
22 0.220
};
\addplot[outl=trimcol] table[x expr=\thisrow{g}+0.24, y=v]{
g v
1 0.633
1 0.625
2 0.614
3 0.594
3 0.507
4 0.580
4 0.478
10 0.347
12 0.501
14 0.296
18 0.477
19 0.477
20 0.473
20 0.239
21 0.463
22 0.466
23 0.471
};
\end{axis}

\begin{axis}[facet, noyl, at={(225.25pt,181.15pt)}, anchor=north west, title={Request Spike}]
\allboxes{\pEm}{\pEs}{\pEt}
\addplot[outl=mutcol] table[x expr=\thisrow{g}-0.24, y=v]{
g v
7 0.362
7 0.252
8 0.348
10 0.375
10 0.261
10 0.241
11 0.239
12 0.239
14 0.195
19 0.177
19 0.125
20 0.128
21 0.127
22 0.331
22 0.171
22 0.141
};
\addplot[outl=scrcol] table[x=g, y=v]{
g v
2 0.586
3 0.580
5 0.465
13 0.463
13 0.360
22 0.378
22 0.280
22 0.256
23 0.372
23 0.241
24 0.229
};
\addplot[outl=trimcol] table[x expr=\thisrow{g}+0.24, y=v]{
g v
5 0.556
5 0.465
26 0.399
26 0.209
27 0.194
};
\end{axis}

\begin{axis}[facet, noyl, at={(399.15pt,181.15pt)}, anchor=north west, title={Request Spike \& New Data Center}]
\allboxes{\pFm}{\pFs}{\pFt}
\addplot[outl=mutcol] table[x expr=\thisrow{g}-0.24, y=v]{
g v
1 0.310
7 0.231
8 0.368
8 0.252
9 0.367
10 0.354
10 0.271
12 0.344
24 0.169
25 0.296
25 0.166
26 0.301
26 0.144
};
\addplot[outl=scrcol] table[x=g, y=v]{
g v
1 0.627
4 0.603
6 0.448
7 0.431
8 0.516
8 0.406
9 0.538
10 0.412
10 0.401
24 0.484
};
\addplot[outl=trimcol] table[x expr=\thisrow{g}+0.24, y=v]{
g v
0 0.653
10 0.311
11 0.288
12 0.298
};
\end{axis}

% titles and legend heading
\node[rotate=90, align=center, font=\bfseries\fontsize{13.6}{16}\selectfont] at (21pt,191.5pt)
  {Normalized Diversity\\(average pairwise tree edit distance)};
\node[anchor=base, font=\bfseries\fontsize{13.4}{16}\selectfont] at (310.5pt,2.4pt) {Generation};
\node[anchor=north west, align=left, inner sep=0pt, font=\bfseries\fontsize{13.5}{14}\selectfont] at (577.5pt,241pt)
  {Starting\\Plan};
\end{tikzpicture}
\end{document}
